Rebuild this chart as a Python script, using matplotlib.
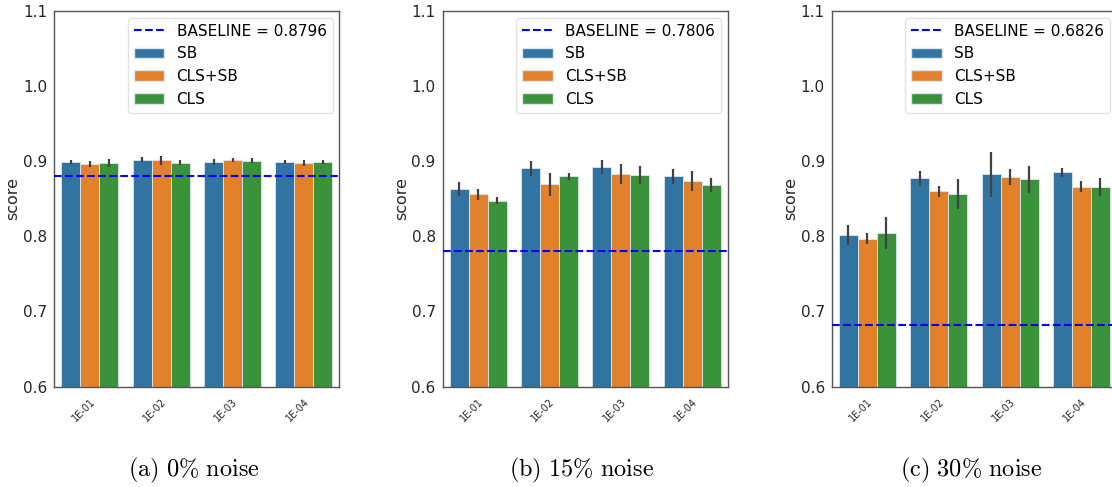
import matplotlib
matplotlib.use("Agg")
import matplotlib.pyplot as plt
import numpy as np
from matplotlib.lines import Line2D
from matplotlib.patches import Patch

plt.rcParams['font.family'] = ['DejaVu Sans']
plt.rcParams['mathtext.fontset'] = 'cm'

categories = ["1E-01", "1E-02", "1E-03", "1E-04"]
series = ["SB", "CLS+SB", "CLS"]
colors = ["#3274a1", "#e1812c", "#3a923a"]

captions = ["(a)\\ 0\\%\\ noise", "(b)\\ 15\\%\\ noise", "(c)\\ 30\\%\\ noise"]
baselines = [0.8796, 0.7806, 0.6826]

# values[panel][series][category]
vals_a = [[0.8991, 0.9018, 0.8987, 0.8991],
          [0.8964, 0.9013, 0.9013, 0.8978],
          [0.8973, 0.8978, 0.9004, 0.8987]]
err_a = [[0.0030, 0.0030, 0.0035, 0.0025],
         [0.0040, 0.0060, 0.0030, 0.0040],
         [0.0050, 0.0035, 0.0033, 0.0030]]

vals_b = [[0.8631, 0.8902, 0.8920, 0.8800],
          [0.8556, 0.8689, 0.8822, 0.8733],
          [0.8476, 0.8796, 0.8813, 0.8676]]
err_b = [[0.0090, 0.0098, 0.0093, 0.0100],
         [0.0070, 0.0150, 0.0133, 0.0136],
         [0.0053, 0.0050, 0.0124, 0.0093]]

vals_c = [[0.8022, 0.8769, 0.8822, 0.8853],
          [0.7969, 0.8596, 0.8791, 0.8662],
          [0.8044, 0.8564, 0.8760, 0.8653]]
err_c = [[0.0133, 0.0096, 0.0300, 0.0060],
         [0.0070, 0.0078, 0.0110, 0.0073],
         [0.0210, 0.0200, 0.0178, 0.0122]]

panels = [(vals_a, err_a), (vals_b, err_b), (vals_c, err_c)]
lefts = [0.0488, 0.3981, 0.7480]
width = 0.2565
bottom = 0.206
height = 0.772

fig = plt.figure(figsize=(11.12, 4.87), dpi=100)
x = np.arange(len(categories))
bw = 0.8 / len(series)

for p, (vals, errs) in enumerate(panels):
    ax = fig.add_axes([lefts[p], bottom, width, height])
    for s in range(len(series)):
        xs = x - 0.4 + bw * (s + 0.5)
        ax.bar(xs, vals[s], width=bw, color=colors[s], edgecolor='#dde6ee',
               linewidth=0.6, label=series[s], zorder=2)
        ax.errorbar(xs, vals[s], yerr=errs[s], fmt='none', ecolor='#424242',
                    elinewidth=1.6, capsize=0, zorder=3)
    ax.axhline(baselines[p], color='blue', linestyle='--', linewidth=1.5, zorder=4)
    ax.set_xlim(-0.5, len(categories) - 0.5)
    ax.set_ylim(0.6, 1.1)
    ax.set_yticks([0.6, 0.7, 0.8, 0.9, 1.0, 1.1])
    ax.set_yticklabels(["0.6", "0.7", "0.8", "0.9", "1.0", "1.1"], fontsize=11, color='#262626')
    ax.set_xticks(x)
    ax.set_xticklabels(categories, rotation=45, ha='right', rotation_mode='anchor',
                       fontsize=7, color='#262626')
    ax.tick_params(axis='y', length=0, pad=5)
    ax.tick_params(axis='x', length=0, pad=7)
    ax.set_ylabel("score", fontsize=11.5, color='#262626', labelpad=2)
    for sp in ax.spines.values():
        sp.set_color('#555555')
        sp.set_linewidth(1.0)
    handles = [Line2D([0], [0], color='blue', linestyle='--', linewidth=1.5)] + \
              [Patch(facecolor=colors[s], edgecolor='#dde6ee') for s in range(len(series))]
    labels = ["BASELINE = %.4f" % baselines[p]] + series
    leg = ax.legend(handles, labels, loc='upper right', fontsize=11, frameon=True,
                    borderaxespad=0.45)
    leg.get_frame().set_edgecolor('#dddddd')
    cx = lefts[p] + width / 2 - 0.003
    fig.text(cx, 0.022, r'$\mathrm{' + captions[p] + '}$', ha='center', va='baseline',
             fontsize=17.5)

fig.savefig("out.png", dpi=100)
